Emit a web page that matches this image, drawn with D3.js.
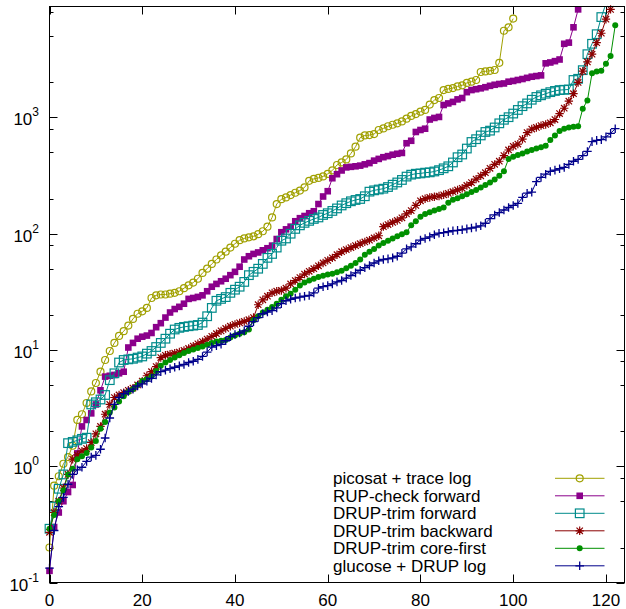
<!DOCTYPE html>
<html>
<head>
<meta charset="utf-8">
<script src="https://cdn.jsdelivr.net/npm/d3@7"></script>
<style>
  body { margin: 0; background: #fff; }
  svg { display: block; font-family: "Liberation Sans", Arial, Helvetica, sans-serif; }
</style>
</head>
<body>
<div id="chart"></div>
<script>
// Cactus plot: run time (log) per instance, sorted, for six checkers

const seriesNames = [
  "picosat + trace log",
  "RUP-check forward",
  "DRUP-trim forward",
  "DRUP-trim backward",
  "DRUP-trim core-first",
  "glucose + DRUP log"
];

const picosatTimes = [
  0.2, 0.68, 0.82, 1.05, 1.2, 1.5, 2.5, 2.8, 3.5, 4.4,
  5.2, 6.5, 8.2, 9.8, 11.5, 13.2, 14.5, 16.2, 18.5, 20.5,
  21.5, 23, 28, 29.5, 30, 30, 30.5, 31, 32, 34,
  36, 38, 41, 46, 50, 55, 60, 65, 70, 76,
  82, 88, 91, 93, 95, 99, 105, 115, 138, 180,
  198, 205, 215, 225, 235, 250, 285, 296, 302, 311,
  327, 350, 390, 410, 435, 490, 560, 670, 700, 705,
  720, 780, 805, 840, 865, 890, 925, 975, 1030, 1070,
  1120, 1160, 1290, 1410, 1470, 1720, 1760, 1790, 1850, 1890,
  1980, 2030, 2100, 2460, 2490, 2520, 2560, 2950, 5570, 5960,
  7080
];

const rupForwardTimes = [
  0.126, 0.3, 0.4, 0.5, 0.6, 0.69, 1.29, 2.2, 2.5, 2.85,
  3.4, 4.5, 5.9, 6.0, 6.1, 6.3, 6.5, 10.5, 11.5, 12.5,
  13, 13.3, 14, 15.7, 17, 19, 21, 22.5, 23.5, 25,
  27.5, 28, 28.6, 29.5, 32, 35, 37, 39, 41, 44,
  47, 52, 60, 64, 67, 69, 72, 75, 79, 90,
  103, 109, 115, 128, 136, 142, 150, 156, 180, 209,
  232, 300, 325, 350, 372, 376, 380, 385, 395, 405,
  425, 440, 455, 465, 478, 487, 495, 600, 630, 750,
  780, 800, 960, 990, 1010, 1280, 1320, 1360, 1430, 1470,
  1650, 1720, 1750, 1780, 1820, 1870, 1910, 1940, 1960, 2030,
  2060, 2100, 2140, 2190, 2240, 2270, 2300, 2920, 2970, 3050,
  3150, 4300, 4400, 5960, 8500, 12000
];

const trimForwardTimes = [
  0.29, 0.45, 0.64, 0.85, 1.58, 1.62, 1.67, 1.72, 1.76, 3.4,
  3.55, 3.75, 4.1, 5.5, 6.3, 7.8, 8.2, 8.3, 8.4, 8.6,
  8.8, 9.3, 9.8, 10.6, 11.5, 12.5, 13.8, 15, 15.5, 15.8,
  16, 16.2, 16.4, 17.2, 19.5, 23, 26.5, 27.5, 28.5, 31,
  33, 35, 38.5, 44, 47, 50, 55, 62, 67, 76,
  87, 91, 100, 110, 118, 124, 129, 134, 138, 145,
  150, 157, 165, 175, 183, 190, 195, 199, 210, 230,
  236, 240, 244, 252, 264, 276, 290, 310, 322, 328,
  330, 335, 337, 343, 352, 365, 380, 410, 455, 480,
  540, 615, 650, 700, 750, 770, 820, 890, 955, 1005,
  1080, 1160, 1250, 1320, 1420, 1500, 1550, 1600, 1650, 1690,
  1720, 1730, 1740, 2100, 2150, 2550, 3500, 4300, 5200, 7300,
  9500
];

const trimBackwardTimes = [
  0.27, 0.4, 0.5, 0.65, 0.85, 1.15, 1.25, 1.35, 1.42, 1.6,
  1.9, 2.2, 2.8, 3.4, 3.9, 4.1, 4.3, 4.5, 4.7, 5.0,
  5.4, 6.0, 6.5, 7.2, 8.6, 9.0, 9.2, 9.4, 9.6, 9.9,
  10.3, 10.8, 11.3, 11.8, 12.4, 13.1, 13.8, 14.6, 15.3, 16,
  16.6, 17.1, 17.6, 18.2, 19, 24.5, 27, 29, 31, 32,
  32.5, 34, 37, 39.5, 42, 45, 47.5, 50, 53, 56,
  59, 62, 66, 70, 73, 76, 79, 82, 85, 88,
  92, 96, 115, 120, 125, 130, 137, 148, 158, 175,
  192, 200, 205, 208, 211, 216, 222, 230, 238, 246,
  260, 275, 295, 315, 335, 365, 395, 420, 470, 525,
  565, 590, 650, 740, 795, 820, 850, 870, 900, 960,
  1080, 1200, 1380, 1600, 2000, 2500, 3000, 3500, 4400, 5300,
  7000, 8500
];

const coreFirstTimes = [
  0.29, 0.38, 0.5, 0.62, 0.85, 0.95, 1.15, 1.22, 1.3, 1.45,
  1.65, 2.1, 2.4, 2.9, 3.2, 3.6, 4.0, 4.35, 4.6, 5.0,
  5.4, 5.6, 5.9, 6.6, 7.3, 7.8, 8.2, 8.6, 9.0, 9.4,
  9.8, 10.1, 10.4, 10.7, 11.1, 11.5, 11.8, 12.0, 12.2, 12.8,
  13.3, 13.8, 14.2, 15, 18, 19.5, 21, 22.2, 23.4, 25,
  27, 29, 30.5, 33, 35.8, 38, 39.6, 41, 42.5, 43.5,
  44.5, 45.2, 46.5, 48, 50.5, 53, 56, 60, 66, 70,
  74, 79, 83, 87, 91, 95, 99, 103, 118, 128,
  140, 148, 153, 158, 163, 168, 185, 196, 202, 210,
  218, 228, 238, 250, 262, 276, 293, 315, 345, 440,
  460, 475, 490, 510, 525, 540, 553, 570, 640, 700,
  765, 800, 820, 830, 840, 1190, 1400, 2400, 2480, 2520,
  2900, 3370, 6200
];

const glucoseTimes = [
  0.133, 0.28, 0.45, 0.54, 0.7, 0.85, 0.93, 0.98, 1.1, 1.2,
  1.24, 1.4, 1.75, 2.6, 3.4, 3.9, 4.2, 4.4, 4.6, 4.9,
  5.1, 5.4, 5.7, 6.1, 6.5, 6.7, 6.9, 7.1, 7.3, 7.5,
  7.8, 8.0, 8.3, 8.8, 9.6, 10.6, 10.9, 11.2, 12, 13,
  13.6, 14, 14.6, 16, 17.5, 19, 20.5, 21.2, 21.8, 23,
  25, 26.5, 27.3, 28, 28.5, 29, 29.4, 31, 34, 35,
  35.8, 37, 38.5, 39.6, 41.5, 43.7, 46, 48.5, 51, 53.3,
  56, 58.5, 60, 60.8, 62, 64, 68, 74, 77, 82,
  88, 91, 94, 98, 101, 102, 104, 106, 107, 108,
  110, 112, 114, 117, 123, 135, 145, 152, 160, 168,
  175, 182, 205, 223, 228, 280, 305, 325, 343, 352,
  362, 372, 395, 420, 435, 470, 510, 620, 635, 645,
  680, 730, 800
];

const seriesColors = ["#a0a000", "#8b008b", "#008b8b", "#8b0000", "#009000", "#00008b"];
const seriesMarkers = ["circleOpen", "squareFilled", "squareOpen", "asterisk", "circleFilled", "plus"];

const xTicks = [0, 20, 40, 60, 80, 100, 120];
const yMajorTicks = [0.1, 1, 10, 100, 1000];
const yExponents = ["-1", "0", "1", "2", "3"];
const yMinorTicks = [0.2, 0.5, 0.8, 2, 5, 8, 20, 50, 80, 200, 500, 800, 2000, 5000, 8000];

const allSeries = [picosatTimes, rupForwardTimes, trimForwardTimes,
  trimBackwardTimes, coreFirstTimes, glucoseTimes];

const width = 626;
const height = 609;
const plot = { left: 49.5, right: 624.5, top: 6.5, bottom: 582.5 };

const svg = d3.select("#chart")
  .append("svg")
  .attr("width", width)
  .attr("height", height);

const x = d3.scaleLinear().domain([0, 124]).range([plot.left, plot.right]);
const y = d3.scaleLog().domain([0.1, 9000]).range([plot.bottom, plot.top]);

svg.append("clipPath")
  .attr("id", "plot-clip")
  .append("rect")
  .attr("x", plot.left)
  .attr("y", plot.top)
  .attr("width", plot.right - plot.left)
  .attr("height", plot.bottom - plot.top);

// ticks (mirrored on all sides, pointing inward)
const ticks = svg.append("g").attr("stroke", "#000").attr("stroke-width", 1);
xTicks.forEach(t => {
  const px = Math.round(x(t)) + 0.5;
  ticks.append("line").attr("x1", px).attr("x2", px).attr("y1", plot.bottom).attr("y2", plot.bottom - 8);
  ticks.append("line").attr("x1", px).attr("x2", px).attr("y1", plot.top).attr("y2", plot.top + 8);
});
yMajorTicks.forEach(t => {
  const py = Math.round(y(t)) + 0.5;
  ticks.append("line").attr("x1", plot.left).attr("x2", plot.left + 8).attr("y1", py).attr("y2", py);
  ticks.append("line").attr("x1", plot.right).attr("x2", plot.right - 8).attr("y1", py).attr("y2", py);
});
yMinorTicks.forEach(t => {
  const py = Math.round(y(t)) + 0.5;
  ticks.append("line").attr("x1", plot.left).attr("x2", plot.left + 4).attr("y1", py).attr("y2", py);
  ticks.append("line").attr("x1", plot.right).attr("x2", plot.right - 4).attr("y1", py).attr("y2", py);
});

// tick labels
svg.append("g")
  .selectAll("text")
  .data(xTicks)
  .enter()
  .append("text")
  .attr("x", d => x(d))
  .attr("y", plot.bottom + 23.5)
  .attr("text-anchor", "middle")
  .style("font-size", "17px")
  .text(d => d);

const yLabels = svg.append("g")
  .selectAll("text")
  .data(yMajorTicks)
  .enter()
  .append("text")
  .attr("x", 39)
  .attr("y", d => y(d) + 8)
  .attr("text-anchor", "end")
  .style("font-size", "17px");
yLabels.append("tspan").text("10");
yLabels.append("tspan")
  .attr("dy", -9)
  .style("font-size", "12px")
  .text((d, i) => yExponents[i]);

// markers
function drawMarker(g, type, color, cx, cy) {
  if (type === "circleOpen") {
    g.append("circle").attr("cx", cx).attr("cy", cy).attr("r", 3.5)
      .attr("fill", "none").attr("stroke", color).attr("stroke-width", 1.2);
  } else if (type === "squareFilled") {
    g.append("rect").attr("x", cx - 3.3).attr("y", cy - 3.3).attr("width", 6.6).attr("height", 6.6)
      .attr("fill", color);
  } else if (type === "squareOpen") {
    g.append("rect").attr("x", cx - 4.3).attr("y", cy - 4.3).attr("width", 8.6).attr("height", 8.6)
      .attr("fill", "none").attr("stroke", color).attr("stroke-width", 1.2);
  } else if (type === "asterisk") {
    g.append("path")
      .attr("d", `M${cx - 4.2},${cy}H${cx + 4.2}M${cx},${cy - 4.2}V${cy + 4.2}M${cx - 3.2},${cy - 3.2}L${cx + 3.2},${cy + 3.2}M${cx - 3.2},${cy + 3.2}L${cx + 3.2},${cy - 3.2}`)
      .attr("fill", "none").attr("stroke", color).attr("stroke-width", 1.2);
  } else if (type === "circleFilled") {
    g.append("circle").attr("cx", cx).attr("cy", cy).attr("r", 3).attr("fill", color);
  } else if (type === "plus") {
    g.append("path")
      .attr("d", `M${cx - 4.3},${cy}H${cx + 4.3}M${cx},${cy - 4.3}V${cy + 4.3}`)
      .attr("fill", "none").attr("stroke", color).attr("stroke-width", 1.3);
  }
}

const line = d3.line()
  .x((d, i) => x(i))
  .y(d => y(d));

allSeries.forEach((values, s) => {
  const g = svg.append("g");
  g.append("path")
    .attr("clip-path", "url(#plot-clip)")
    .attr("d", line(values))
    .attr("fill", "none")
    .attr("stroke", seriesColors[s])
    .attr("stroke-width", 1);
  values.forEach((v, i) => {
    if (v > 9000) return;
    drawMarker(g, seriesMarkers[s], seriesColors[s], x(i), y(v));
  });
});

// legend
const legend = svg.append("g");
seriesNames.forEach((name, i) => {
  const cy = 478.3 + i * 17.5;
  legend.append("text")
    .attr("x", 333)
    .attr("y", cy + 6)
    .style("font-size", "17px")
    .text(name);
  legend.append("line")
    .attr("x1", 555).attr("x2", 604.5)
    .attr("y1", cy).attr("y2", cy)
    .attr("stroke", seriesColors[i])
    .attr("stroke-width", 1);
  drawMarker(legend, seriesMarkers[i], seriesColors[i], 579.7, cy);
});

// border
svg.append("rect")
  .attr("x", plot.left)
  .attr("y", plot.top)
  .attr("width", plot.right - plot.left)
  .attr("height", plot.bottom - plot.top)
  .attr("fill", "none")
  .attr("stroke", "#000")
  .attr("stroke-width", 1);
</script>
</body>
</html>
